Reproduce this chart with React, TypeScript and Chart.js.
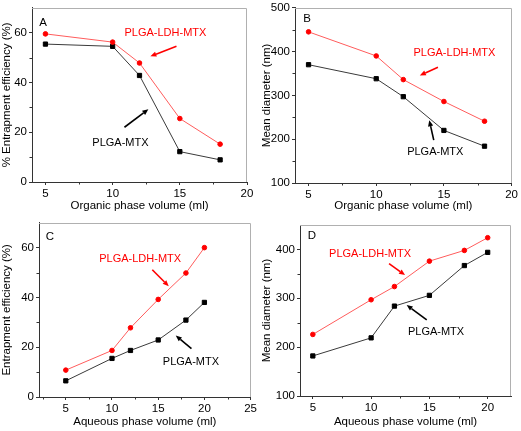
import React, { useEffect, useRef } from "react";
import { Chart, registerables } from "chart.js";

Chart.register(...registerables);

// ---------------- data ----------------
const organicVolume = [5, 10, 12, 15, 18];
const aqueousVolume = [5, 10, 12, 15, 18, 20];

const eeOrganicLDH = [59.5, 56.2, 47.8, 25.5, 15.2];
const eeOrganicMTX = [55.4, 54.5, 42.8, 12.2, 8.9];

const sizeOrganicLDH = [445, 390, 336, 286, 241];
const sizeOrganicMTX = [370, 338, 297, 220, 184];

const eeAqueousLDH = [10.8, 18.7, 27.8, 39.2, 49.8, 60];
const eeAqueousMTX = [6.5, 15.5, 18.7, 22.9, 30.9, 38];

const sizeAqueousLDH = [226, 297, 324, 376, 398, 424];
const sizeAqueousMTX = [182, 219, 284, 306, 367, 394];

const seriesNames = ["PLGA-LDH-MTX", "PLGA-MTX"];

const organicTicks = [5, 10, 15, 20];
const organicMinor = [7.5, 12.5, 17.5];
const aqueousTicksC = [5, 10, 15, 20, 25];
const aqueousMinorC = [2.5, 7.5, 12.5, 17.5, 22.5];
const aqueousTicksD = [5, 10, 15, 20];
const aqueousMinorD = [7.5, 12.5, 17.5];
const eeTicks = [0, 20, 40, 60];
const eeMinor = [10, 30, 50];
const sizeTicksB = [100, 200, 300, 400, 500];
const sizeMinorB = [150, 250, 350, 450];
const sizeTicksD = [100, 200, 300, 400];
const sizeMinorD = [150, 250, 350];

// ---------------- styles ----------------
const FONT = "Arial, 'Liberation Sans', Helvetica, sans-serif";
const RED = "#ff0000";
const RED_LINE = "#ff5c5c";
const BLACK = "#000000";
const BLACK_LINE = "#3a3a3a";
const AXIS = "#333333";
const FRAME = "#b0b0b0";

type Arrow = { x1: number; y1: number; x2: number; y2: number; color: string };
type Note = { text: string; x: number; y: number; color: string };

interface PanelSpec {
  letter: string;
  letterDx: number;
  letterDy: number;
  left: number;
  top: number;
  width: number;
  height: number;
  plot: { l: number; r: number; t: number; b: number };
  xMin: number;
  xMax: number;
  yMin: number;
  yMax: number;
  xTicks: number[];
  yTicks: number[];
  xMinor: number[];
  yMinor: number[];
  xTitle: string;
  yTitle: string;
  xs: number[];
  red: number[];
  black: number[];
  notes: Note[];
  arrows: Arrow[];
}

const panels: PanelSpec[] = [
  {
    letter: "A", letterDx: 11, letterDy: 15,
    left: 0, top: 0, width: 260, height: 215,
    plot: { l: 32, r: 247, t: 7, b: 182 },
    xMin: 4, xMax: 20, yMin: 0, yMax: 70,
    xTicks: organicTicks, yTicks: eeTicks, xMinor: organicMinor, yMinor: eeMinor,
    xTitle: "Organic phase volume (ml)", yTitle: "% Entrapment efficiency (%)",
    xs: organicVolume, red: eeOrganicLDH, black: eeOrganicMTX,
    notes: [
      { text: seriesNames[0], x: 13.93, y: 59.7, color: RED },
      { text: seriesNames[1], x: 10.58, y: 15.5, color: BLACK },
    ],
    arrows: [
      { x1: 14.75, y1: 54.5, x2: 12.81, y2: 50.5, color: RED },
      { x1: 10.88, y1: 22, x2: 12.66, y2: 29.2, color: BLACK },
    ],
  },
  {
    letter: "B", letterDx: 12, letterDy: 11,
    left: 260, top: 0, width: 261, height: 215,
    plot: { l: 35, r: 254, t: 6, b: 183 },
    xMin: 4, xMax: 20, yMin: 100, yMax: 500,
    xTicks: organicTicks, yTicks: sizeTicksB, xMinor: organicMinor, yMinor: sizeMinorB,
    xTitle: "Organic phase volume (ml)", yTitle: "Mean diameter (nm)",
    xs: organicVolume, red: sizeOrganicLDH, black: sizeOrganicMTX,
    notes: [
      { text: seriesNames[0], x: 15.78, y: 396, color: RED },
      { text: seriesNames[1], x: 14.36, y: 170, color: BLACK },
    ],
    arrows: [
      { x1: 14.56, y1: 364, x2: 13.22, y2: 345.6, color: RED },
      { x1: 14.25, y1: 198, x2: 13.92, y2: 243.3, color: BLACK },
    ],
  },
  {
    letter: "C", letterDx: 11, letterDy: 14,
    left: 0, top: 215, width: 260, height: 216,
    plot: { l: 39, r: 253, t: 7, b: 182 },
    xMin: 2.1, xMax: 25, yMin: 0, yMax: 70,
    xTicks: aqueousTicksC, yTicks: eeTicks, xMinor: aqueousMinorC, yMinor: eeMinor,
    xTitle: "Aqueous phase volume (ml)", yTitle: "Entrapment efficiency (%)",
    xs: aqueousVolume, red: eeAqueousLDH, black: eeAqueousMTX,
    notes: [
      { text: seriesNames[0], x: 13.05, y: 55.5, color: RED },
      { text: seriesNames[1], x: 18.54, y: 14.0, color: BLACK },
    ],
    arrows: [
      { x1: 14.36, y1: 51.1, x2: 16.14, y2: 44.5, color: RED },
      { x1: 18.6, y1: 19.4, x2: 16.9, y2: 24.7, color: BLACK },
    ],
  },
  {
    letter: "D", letterDx: 12, letterDy: 11,
    left: 260, top: 215, width: 261, height: 216,
    plot: { l: 40, r: 251, t: 10, b: 181 },
    xMin: 3.9, xMax: 22, yMin: 100, yMax: 450,
    xTicks: aqueousTicksD, yTicks: sizeTicksD, xMinor: aqueousMinorD, yMinor: sizeMinorD,
    xTitle: "Aqueous phase volume (ml)", yTitle: "Mean diameter (nm)",
    xs: aqueousVolume, red: sizeAqueousLDH, black: sizeAqueousMTX,
    notes: [
      { text: seriesNames[0], x: 9.91, y: 390, color: RED },
      { text: seriesNames[1], x: 15.57, y: 230.7, color: BLACK },
    ],
    arrows: [
      { x1: 11.54, y1: 371, x2: 12.91, y2: 347.5, color: RED },
      { x1: 14.77, y1: 255.8, x2: 13.05, y2: 286.4, color: BLACK },
    ],
  },
];

const decorPlugin = {
  id: "decor",
  afterDraw(chart: any, _args: any, opts: any) {
    const spec: PanelSpec = opts.spec;
    if (!spec) return;
    const { ctx, chartArea: a, scales } = chart;
    const xs = scales.x;
    const ys = scales.y;
    ctx.save();
    // light frame (top & right)
    ctx.strokeStyle = FRAME;
    ctx.lineWidth = 1;
    ctx.beginPath();
    const top = Math.round(a.top) + 0.5;
    const right = Math.round(a.right) - 0.5;
    ctx.moveTo(Math.round(a.left), top);
    ctx.lineTo(right, top);
    ctx.lineTo(right, Math.round(a.bottom));
    ctx.stroke();

    // minor ticks
    ctx.strokeStyle = AXIS;
    ctx.beginPath();
    const bottom = Math.round(a.bottom);
    for (const v of spec.xMinor) {
      const px = Math.round(xs.getPixelForValue(v)) + 0.5;
      ctx.moveTo(px, bottom);
      ctx.lineTo(px, bottom + 2.5);
    }
    const left = Math.round(a.left);
    for (const v of spec.yMinor) {
      const py = Math.round(ys.getPixelForValue(v)) + 0.5;
      ctx.moveTo(left, py);
      ctx.lineTo(left - 2.5, py);
    }
    ctx.stroke();

    // arrows
    for (const ar of spec.arrows) {
      const x1 = xs.getPixelForValue(ar.x1);
      const y1 = ys.getPixelForValue(ar.y1);
      const x2 = xs.getPixelForValue(ar.x2);
      const y2 = ys.getPixelForValue(ar.y2);
      const ang = Math.atan2(y2 - y1, x2 - x1);
      const head = 6;
      const hw = 2.6;
      const bx = x2 - head * Math.cos(ang);
      const by = y2 - head * Math.sin(ang);
      ctx.strokeStyle = ar.color;
      ctx.fillStyle = ar.color;
      ctx.lineWidth = 1.6;
      ctx.beginPath();
      ctx.moveTo(x1, y1);
      ctx.lineTo(bx, by);
      ctx.stroke();
      ctx.beginPath();
      ctx.moveTo(x2, y2);
      ctx.lineTo(bx + hw * Math.sin(ang), by - hw * Math.cos(ang));
      ctx.lineTo(bx - hw * Math.sin(ang), by + hw * Math.cos(ang));
      ctx.closePath();
      ctx.fill();
    }

    // notes
    ctx.font = `11px ${FONT}`;
    ctx.textAlign = "center";
    ctx.textBaseline = "middle";
    for (const n of spec.notes) {
      ctx.fillStyle = n.color;
      ctx.fillText(n.text, xs.getPixelForValue(n.x), ys.getPixelForValue(n.y));
    }

    // panel letter
    ctx.fillStyle = "#000";
    ctx.font = `11.5px ${FONT}`;
    ctx.fillText(spec.letter, a.left + spec.letterDx, a.top + spec.letterDy);
    ctx.restore();
  },
};

function Panel({ spec }: { spec: PanelSpec }) {
  const ref = useRef<HTMLCanvasElement | null>(null);
  useEffect(() => {
    if (!ref.current) return;
    const p = spec.plot;
    const tickFont = { family: FONT, size: 11.5, lineHeight: 1 };
    const titleFont = { family: FONT, size: 11.5, lineHeight: 1.2 };
    const chart = new Chart(ref.current, {
      type: "line",
      data: {
        datasets: [
          {
            label: seriesNames[0],
            data: spec.xs.map((x, i) => ({ x, y: spec.red[i] })),
            borderColor: RED_LINE,
            borderWidth: 1,
            pointStyle: "circle",
            pointRadius: 2.3,
            pointBorderWidth: 1,
            pointBackgroundColor: RED,
            pointBorderColor: RED,
            tension: 0,
          },
          {
            label: seriesNames[1],
            data: spec.xs.map((x, i) => ({ x, y: spec.black[i] })),
            borderColor: BLACK_LINE,
            borderWidth: 1,
            pointStyle: "rect",
            pointRadius: 3.0,
            pointBorderWidth: 1,
            pointBackgroundColor: BLACK,
            pointBorderColor: BLACK,
            tension: 0,
          },
        ],
      },
      options: {
        responsive: false,
        animation: false,
        devicePixelRatio: 1,
        layout: { padding: { left: 0, top: p.t, right: spec.width - p.r, bottom: 0 } },
        plugins: {
          legend: { display: false },
          tooltip: { enabled: false },
          decor: { spec },
        } as any,
        scales: {
          x: {
            type: "linear",
            min: spec.xMin,
            max: spec.xMax,
            afterFit: (s: any) => {
              s.height = spec.height - p.b;
            },
            afterBuildTicks: (s: any) => {
              s.ticks = spec.xTicks.map((v) => ({ value: v }));
            },
            grid: { display: true, drawOnChartArea: false, drawTicks: true, tickLength: 3, color: AXIS, lineWidth: 1 },
            border: { display: true, color: AXIS, width: 1 },
            ticks: { font: tickFont, color: "#000", padding: 3, maxRotation: 0, autoSkip: false },
            title: { display: true, text: spec.xTitle, font: titleFont, color: "#000", padding: { top: 0, bottom: 2 } },
          },
          y: {
            type: "linear",
            min: spec.yMin,
            max: spec.yMax,
            afterFit: (s: any) => {
              s.width = p.l;
            },
            afterBuildTicks: (s: any) => {
              s.ticks = spec.yTicks.map((v) => ({ value: v }));
            },
            grid: { display: true, drawOnChartArea: false, drawTicks: true, tickLength: 3, color: AXIS, lineWidth: 1 },
            border: { display: true, color: AXIS, width: 1 },
            ticks: { font: tickFont, color: "#000", padding: 2, autoSkip: false },
            title: { display: true, text: spec.yTitle, font: titleFont, color: "#000", padding: { top: 0, bottom: 0 } },
          },
        },
      } as any,
      plugins: [decorPlugin],
    });
    return () => chart.destroy();
  }, [spec]);
  return (
    <canvas
      ref={ref}
      width={spec.width}
      height={spec.height}
      style={{ position: "absolute", left: spec.left, top: spec.top, width: spec.width, height: spec.height, display: "block" }}
    />
  );
}

export default function App() {
  return (
    <div style={{ position: "fixed", left: 0, top: 0, width: 521, height: 431, background: "#ffffff", overflow: "hidden" }}>
      {panels.map((s) => (
        <Panel key={s.letter} spec={s} />
      ))}
    </div>
  );
}
